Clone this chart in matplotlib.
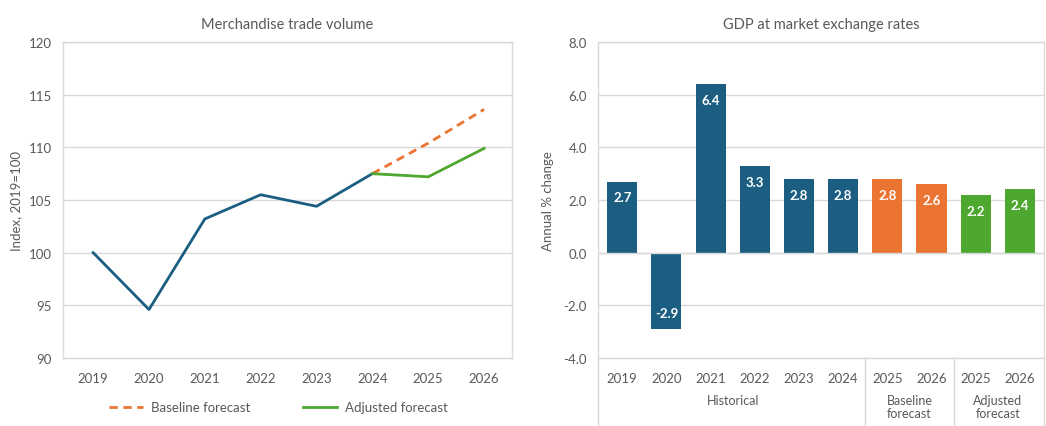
import matplotlib.pyplot as plt
import numpy as np

plt.rcParams["font.family"] = ["Lato", "DejaVu Sans"]

# merchandise trade volume (index, 2019=100)
years = ["2019", "2020", "2021", "2022", "2023", "2024", "2025", "2026"]
hist_vals = [100, 94.6, 103.2, 105.5, 104.4, 107.5]
baseline_vals = [107.5, 110.4, 113.6]
adjusted_vals = [107.5, 107.2, 109.9]

# GDP growth
gdp_years = ["2019", "2020", "2021", "2022", "2023", "2024", "2025", "2026", "2025", "2026"]
gdp_vals = [2.7, -2.9, 6.4, 3.3, 2.8, 2.8, 2.8, 2.6, 2.2, 2.4]
gdp_groups = ["hist"] * 6 + ["base"] * 2 + ["adj"] * 2
group_labels = [("Historical", 0, 5), ("Baseline\nforecast", 6, 7), ("Adjusted\nforecast", 8, 9)]

BLUE = "#1b5e82"
ORANGE = "#ec7432"
GREEN = "#4ea72e"
GREY = "#595959"
GRID = "#d9d9d9"
colors = {"hist": BLUE, "base": ORANGE, "adj": GREEN}

fig = plt.figure(figsize=(10.46, 4.27), dpi=100)
ax1 = fig.add_axes([0.0602, 0.1593, 0.4293, 0.74])
ax2 = fig.add_axes([0.5717, 0.1593, 0.4265, 0.74])

for ax in (ax1, ax2):
    for s in ax.spines.values():
        s.set_color(GRID)
        s.set_linewidth(1)
    ax.tick_params(length=0, colors=GREY, labelsize=9.5)
    ax.yaxis.grid(True, color=GRID, lw=1)
    ax.set_axisbelow(True)

# left chart
x = np.arange(len(years))
ax1.plot(x[:6], hist_vals, color=BLUE, lw=2)
ax1.plot(x[5:], baseline_vals, color=ORANGE, lw=2, ls=(0, (3, 2)), label="Baseline forecast")
ax1.plot(x[5:], adjusted_vals, color=GREEN, lw=2, label="Adjusted forecast")
ax1.set_xlim(-0.54, 7.5)
ax1.set_ylim(90, 120)
ax1.set_yticks(range(90, 121, 5))
ax1.set_xticks(x)
ax1.set_xticklabels(years)
ax1.tick_params(axis="x", pad=10)
ax1.tick_params(axis="y", pad=8)
ax1.set_ylabel("Index, 2019=100", color=GREY, fontsize=9.5, labelpad=5)
ax1.set_title("Merchandise trade volume", color=GREY, fontsize=10.5, pad=10)
ax1.legend(loc="upper center", bbox_to_anchor=(0.48, -0.1), ncol=2, frameon=False,
           fontsize=9.5, labelcolor=GREY, handlelength=2.6, handletextpad=0.6,
           columnspacing=4)

# right chart
xb = np.arange(len(gdp_vals))
ax2.bar(xb, gdp_vals, width=0.68, color=[colors[g] for g in gdp_groups])
for xi, v in zip(xb, gdp_vals):
    ax2.text(xi, v - np.sign(v) * 0.6, f"{v:.1f}", ha="center", va="center",
             color="white", fontsize=9.5, fontweight="bold")
ax2.axhline(0, color=GRID, lw=1)
ax2.set_xlim(-0.55, 9.55)
ax2.set_ylim(-4, 8)
ax2.set_yticks(np.arange(-4, 8.1, 2))
ax2.set_yticklabels([f"{t:.1f}" for t in np.arange(-4, 8.1, 2)])
ax2.set_xticks(xb)
ax2.set_xticklabels(gdp_years)
ax2.tick_params(axis="x", pad=10)
ax2.tick_params(axis="y", pad=8)
ax2.set_ylabel("Annual % change", color=GREY, fontsize=9.5, labelpad=7)
ax2.set_title("GDP at market exchange rates", color=GREY, fontsize=10.5, pad=10)

# group separators and labels under the category axis
trans = ax2.get_xaxis_transform()
for b in [-0.55, 5.5, 7.5, 9.55]:
    ax2.plot([b, b], [0, -0.4], transform=trans, color=GRID, lw=1, clip_on=False)
for name, a, b in group_labels:
    ax2.text((a + b) / 2, -0.115, name, transform=trans, ha="center", va="top",
             color=GREY, fontsize=9, linespacing=1.1)

fig.savefig("out.png", dpi=100)
